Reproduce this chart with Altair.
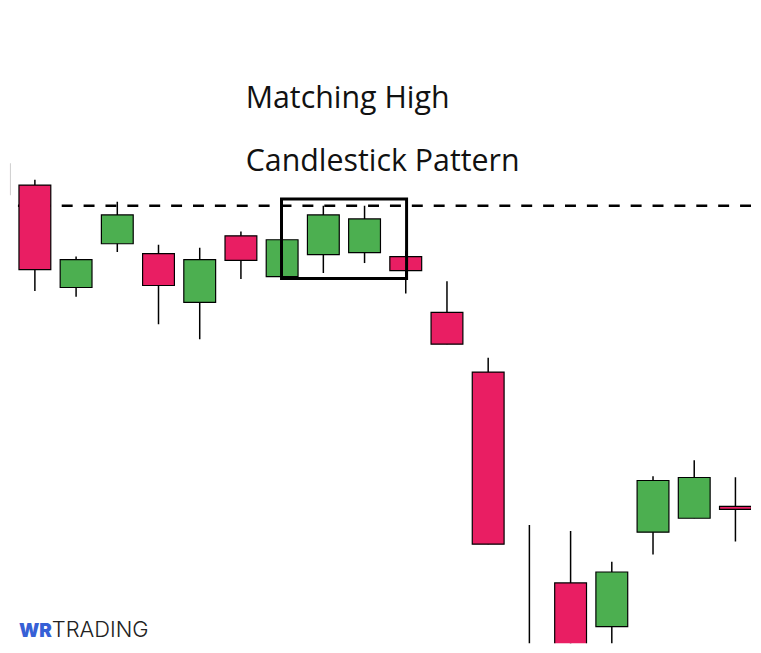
import altair as alt
import pandas as pd

# candle index, open, high, low, close (prices)
idx    = [0, 1, 2, 3, 4, 5, 6, 7, 8, 9, 10, 11, 12, 13, 14, 15, 16, 17, 18]
opens  = [149.0, 146.87, 136.57, 140.97, 139.97, 135.07, 141.77, 137.67, 139.87, 140.07,
          139.67, 134.07, 128.07, 99.0, 106.87, 102.47, 111.97, 113.37, 114.57]
closes = [145.9, 138.37, 139.37, 143.87, 136.77, 139.37, 139.3, 141.37, 143.87, 143.47,
          138.27, 130.87, 110.77, 95.0, 98.0, 107.97, 117.17, 117.47, 114.27]
highs  = [149.5, 147.4, 139.7, 145.2, 140.87, 140.57, 142.2, 141.37, 144.8, 144.8,
          140.3, 137.2, 129.5, 112.7, 112.1, 109.0, 117.6, 119.2, 117.5]
lows   = [145.5, 136.23, 135.63, 140.13, 132.87, 131.37, 137.43, 137.67, 138.03, 139.03,
          135.97, 130.87, 110.77, 94.0, 97.0, 99.0, 109.73, 113.37, 111.03]

resistance = [144.8]
box_x = [6.985, 10.02]
box_y = [137.47, 145.47]

title_lines = ["Matching High", "Candlestick Pattern"]

df = pd.DataFrame({"i": idx, "open": opens, "close": closes, "high": highs, "low": lows})
df["dir"] = ["up" if c >= o else "down" for o, c in zip(opens, closes)]

W, H = 745, 637
xs = alt.Scale(domain=[0.396, 18.378], nice=False, zero=False, padding=0)
ys = alt.Scale(domain=[100.8, 164.5], nice=False, zero=False, padding=0)

base = alt.Chart(df)

wicks = base.mark_rule(color="black", strokeWidth=1.5, clip=True).encode(
    x=alt.X("i:Q", scale=xs, axis=None),
    y=alt.Y("low:Q", scale=ys, axis=None),
    y2="high:Q",
)

bodies = base.mark_bar(size=32, stroke="black", strokeWidth=1.2, clip=True).encode(
    x=alt.X("i:Q", scale=xs, axis=None),
    y=alt.Y("open:Q", scale=ys, axis=None),
    y2="close:Q",
    color=alt.Color("dir:N", scale=alt.Scale(domain=["up", "down"], range=["#4CAF50", "#E91E63"]), legend=None),
)

dash = alt.Chart(pd.DataFrame({"v": resistance})).mark_rule(
    color="black", strokeWidth=2.5, strokeDash=[11, 11]
).encode(y=alt.Y("v:Q", scale=ys, axis=None))

box = alt.Chart(pd.DataFrame({"x0": [box_x[0]], "x1": [box_x[1]], "y0": [box_y[0]], "y1": [box_y[1]]})).mark_rect(
    fill=None, fillOpacity=0, stroke="black", strokeWidth=3, clip=True
).encode(
    x=alt.X("x0:Q", scale=xs, axis=None), x2="x1:Q",
    y=alt.Y("y0:Q", scale=ys, axis=None), y2="y1:Q",
)

t1 = alt.Chart(pd.DataFrame({"t": [title_lines[0]]})).mark_text(
    font="Open Sans", fontSize=30.5, align="left", baseline="alphabetic", color="#111"
).encode(text="t:N", x=alt.value(237), y=alt.value(99))

t2 = alt.Chart(pd.DataFrame({"t": [title_lines[1]]})).mark_text(
    font="Open Sans", fontSize=30.5, align="left", baseline="alphabetic", color="#111"
).encode(text="t:N", x=alt.value(237), y=alt.value(162))

logo1 = alt.Chart(pd.DataFrame({"t": ["WR"]})).mark_text(
    font="Inter", fontSize=19, fontWeight=900, align="left", baseline="alphabetic", color="#3660D6"
).encode(text="t:N", x=alt.value(9), y=alt.value(631))

logo2 = alt.Chart(pd.DataFrame({"t": ["TRADING"]})).mark_text(
    font="Inter", fontSize=22, fontWeight=300, align="left", baseline="alphabetic", color="#222"
).encode(text="t:N", x=alt.value(42), y=alt.value(631))

chart = alt.layer(dash, wicks, bodies, box, t1, t2, logo1, logo2).properties(
    width=W, height=H, padding=0, background="white"
).configure_view(strokeWidth=0)

chart.save("out.html", embed_options={"renderer": "svg", "actions": False})
